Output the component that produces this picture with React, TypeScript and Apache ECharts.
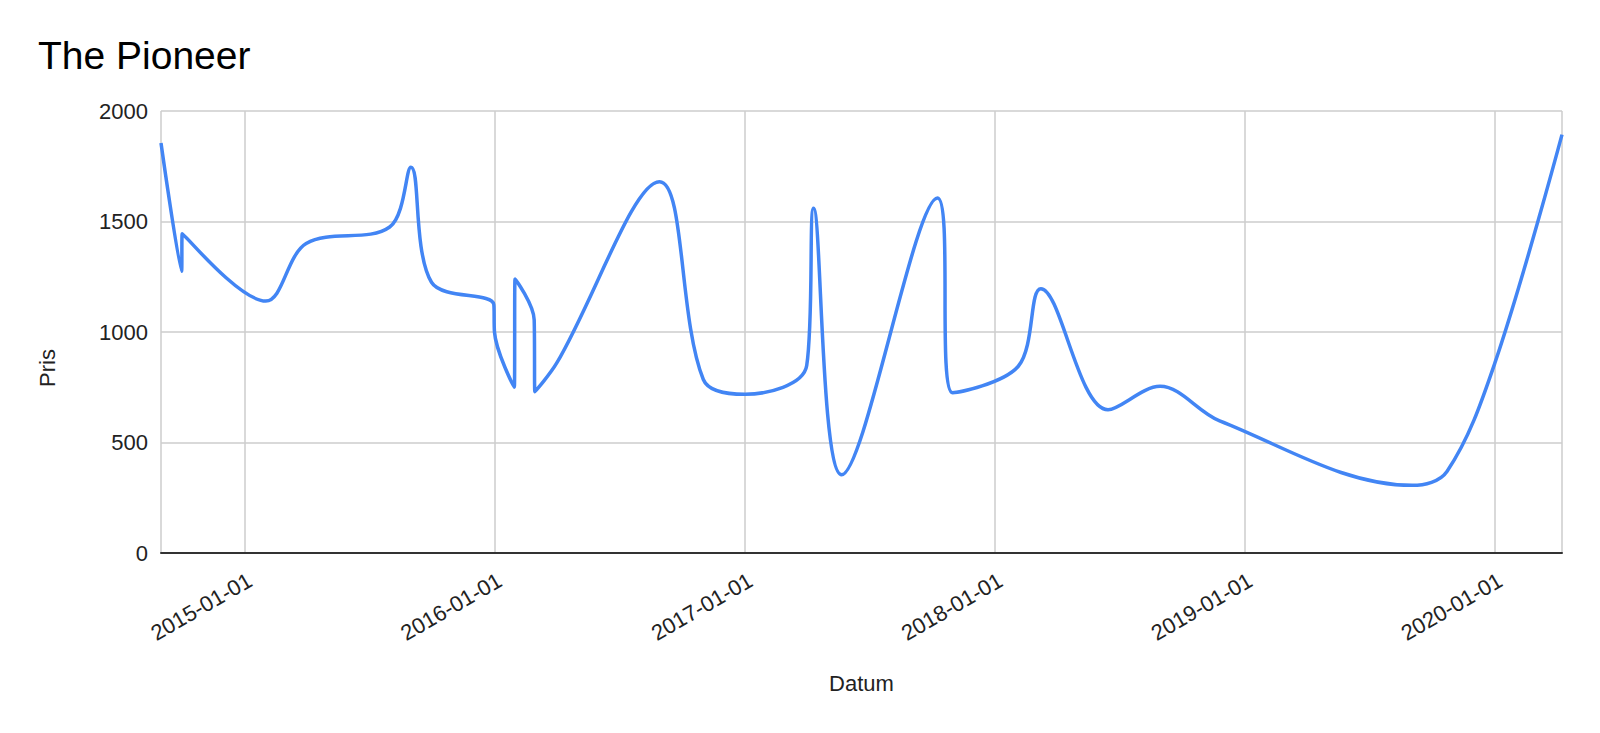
import React, { useEffect, useRef } from "react";
import * as echarts from "echarts";

const titleText = "The Pioneer";
const xAxisTitle = "Datum";
const yAxisTitle = "Pris";

const dates: string[] = [
  "2014-09-01", "2014-10-01", "2014-10-02", "2015-02-01", "2015-04-01",
  "2015-08-01", "2015-09-01", "2015-10-01", "2015-12-31", "2016-01-01",
  "2016-01-30", "2016-01-31", "2016-02-28", "2016-02-29", "2016-04-01",
  "2016-08-29", "2016-11-01", "2017-01-01", "2017-04-01", "2017-04-11",
  "2017-05-22", "2017-10-09", "2017-10-31", "2018-02-04", "2018-03-09",
  "2018-06-15", "2018-08-30", "2018-11-25", "2019-09-02", "2019-10-23",
  "2020-01-01", "2020-04-08",
];

const prices: number[] = [
  1855, 1275, 1445, 1140, 1400,
  1475, 1745, 1225, 1125, 1000,
  750, 1240, 1055, 730, 860,
  1680, 785, 718, 848, 1560,
  354, 1606, 725, 845, 1196,
  648, 754, 598, 306, 369,
  860, 1893,
];

const yTicks = { min: 0, max: 2000, interval: 500 };

function toTs(s: string): number {
  const [y, m, d] = s.split("-").map(Number);
  return new Date(y, m - 1, d).getTime();
}

function pad(n: number): string {
  return n < 10 ? "0" + n : "" + n;
}

export default function App() {
  const ref = useRef<HTMLDivElement>(null);
  useEffect(() => {
    if (!ref.current) return;
    const chart = echarts.init(ref.current, undefined, { renderer: "svg" });
    const font = "'Liberation Sans', Arial, sans-serif";
    const data = dates.map((d, i) => [toTs(d), prices[i]]);
    const DAY = 24 * 3600 * 1000;
    chart.setOption({
      animation: false,
      backgroundColor: "#ffffff",
      title: {
        text: titleText,
        left: 33,
        top: 31,
        textStyle: { fontFamily: font, fontSize: 39, fontWeight: "normal", color: "#000" },
      },
      grid: { left: 161, right: 38, top: 111, bottom: 180 },
      xAxis: {
        type: "time",
        min: toTs(dates[0]),
        max: toTs(dates[dates.length - 1]),
        splitNumber: 5,
        minInterval: 365 * DAY,
        name: xAxisTitle,
        nameLocation: "middle",
        nameGap: 119,
        nameTextStyle: { fontFamily: font, fontSize: 22, color: "#222" },
        axisLine: { show: true, onZero: true, lineStyle: { color: "#333", width: 2 } },
        axisTick: { show: false },
        splitLine: { show: true, lineStyle: { color: "#cccccc", width: 1.5 } },
        axisLabel: {
          rotate: 30,
          margin: 16,
          verticalAlign: "top",
          fontFamily: font,
          fontSize: 22,
          color: "#222",
          showMinLabel: false,
          showMaxLabel: false,
          formatter: (v: number) => {
            const d = new Date(v);
            return d.getFullYear() + "-" + pad(d.getMonth() + 1) + "-" + pad(d.getDate());
          },
        },
      },
      yAxis: {
        type: "value",
        min: yTicks.min,
        max: yTicks.max,
        interval: yTicks.interval,
        axisLine: { show: false },
        axisTick: { show: false },
        splitLine: { show: true, lineStyle: { color: "#cccccc", width: 1.5 } },
        axisLabel: {
          margin: 13,
          fontFamily: font,
          fontSize: 22,
          color: "#222",
          formatter: (v: number) => String(v),
        },
      },
      graphic: [
        {
          type: "text",
          x: 47,
          y: 368,
          rotation: Math.PI / 2,
          style: {
            text: yAxisTitle,
            font: "22px " + font,
            fill: "#222",
            align: "center",
            verticalAlign: "middle",
          },
        },
      ],
      series: [
        {
          type: "line",
          data,
          smooth: 0.35,
          showSymbol: false,
          lineStyle: { color: "#4285F4", width: 3.5 },
          itemStyle: { color: "#4285F4" },
        },
      ],
    });
    return () => chart.dispose();
  }, []);
  return (
    <div
      ref={ref}
      style={{ position: "fixed", left: 0, top: 0, width: 1600, height: 733 }}
    />
  );
}
